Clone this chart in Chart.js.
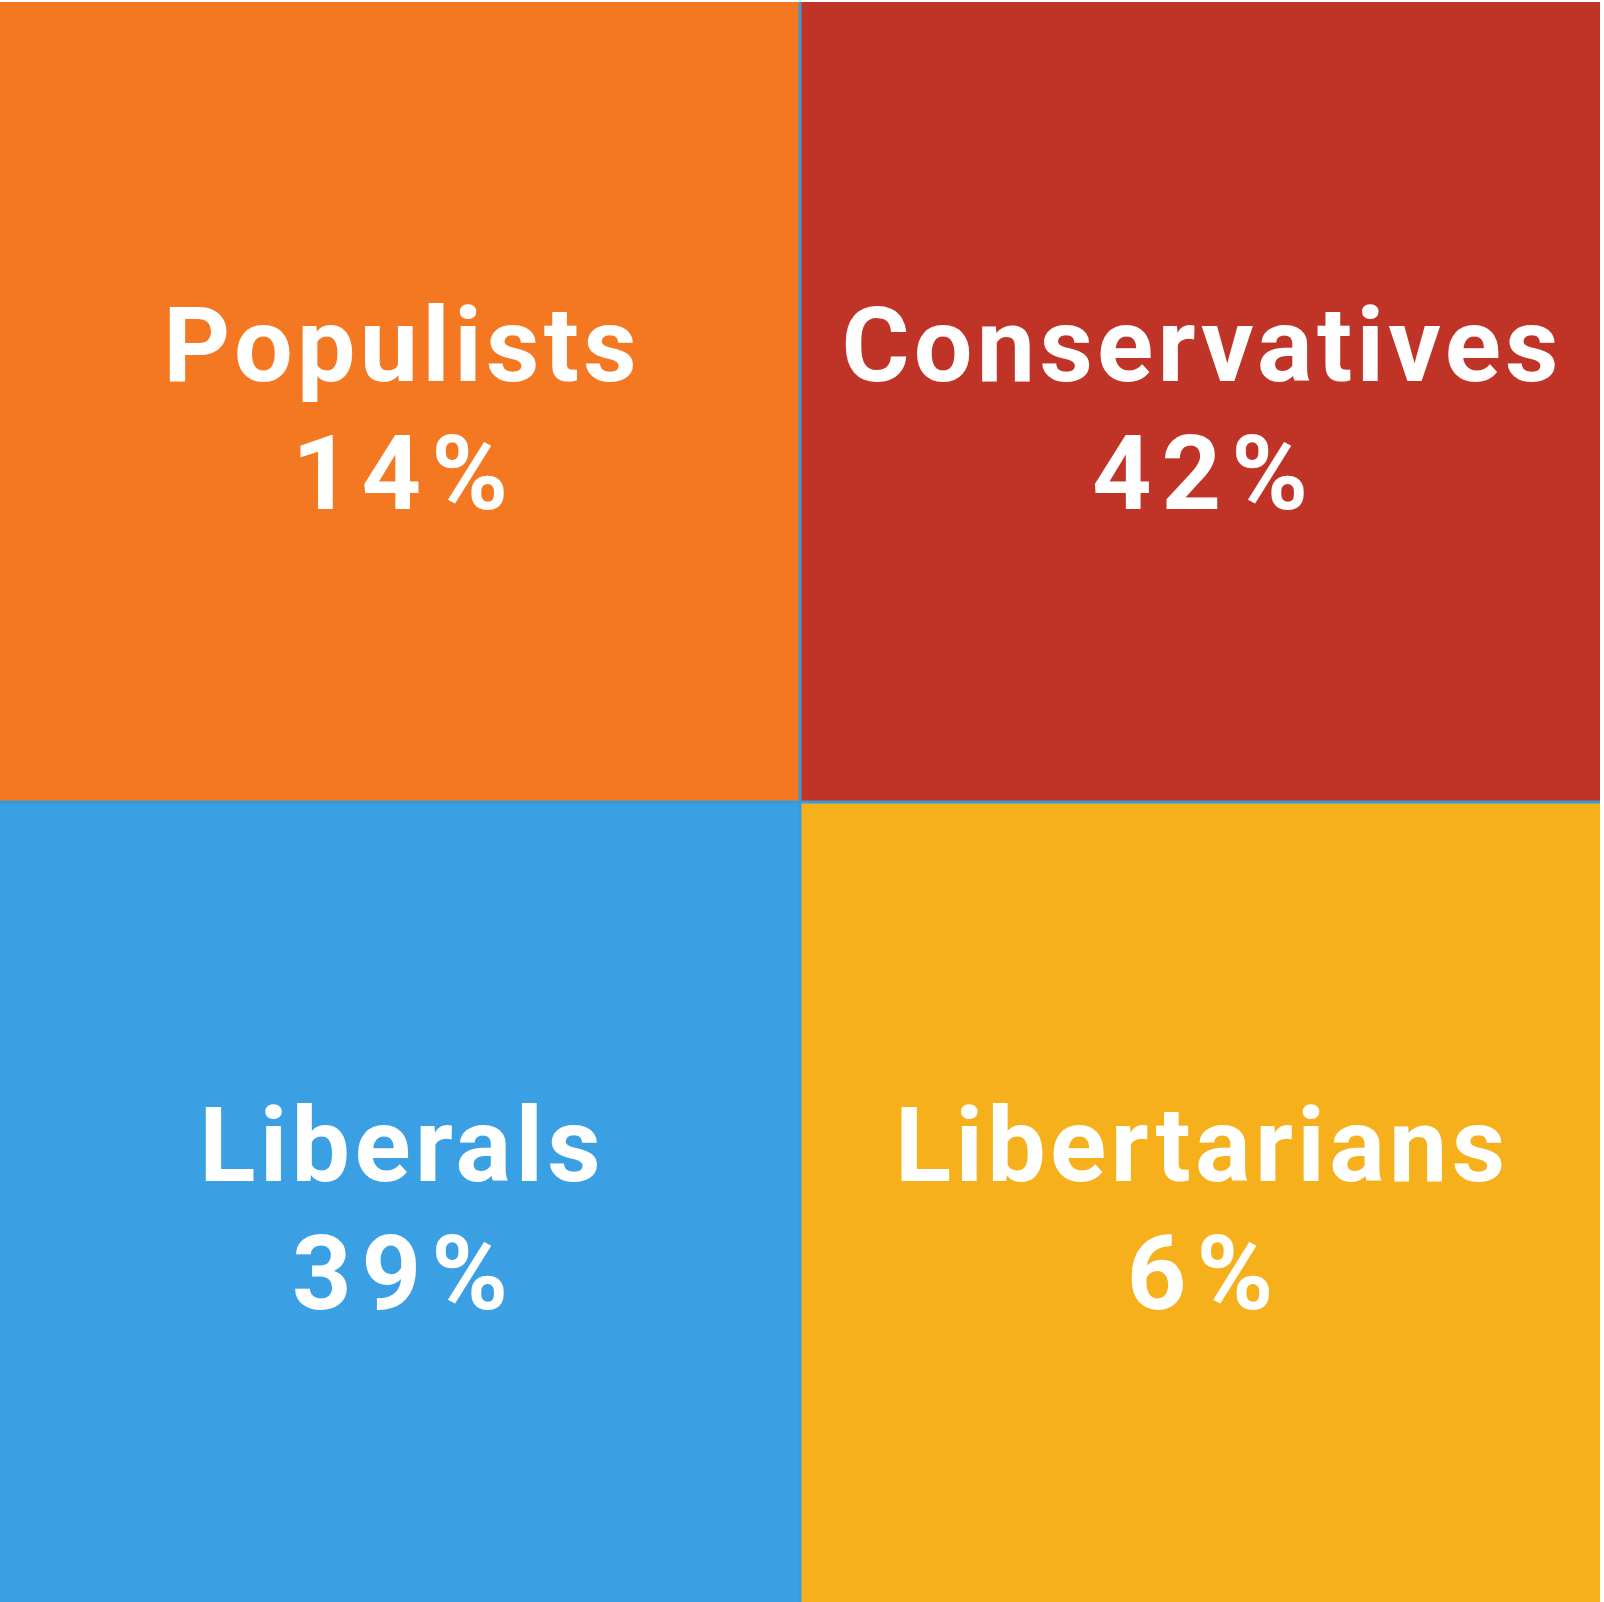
<!DOCTYPE html>
<html>
<head>
<meta charset="utf-8">
<script src="https://cdn.jsdelivr.net/npm/chart.js@4"></script>
<style>
  html, body { margin: 0; padding: 0; background: #ffffff; }
  #wrap { width: 1604px; height: 1602px; }
</style>
</head>
<body>
<div id="wrap"><canvas id="c" width="1604" height="1602"></canvas></div>
<script>
// Columns (x) and rows (stacked y)
const columns = ["Left", "Right"];
const topRowNames = ["Populists", "Conservatives"];
const topRowShares = [14, 42];
const bottomRowNames = ["Liberals", "Libertarians"];
const bottomRowShares = [39, 6];
const topRowColors = ["#F37821", "#C03428"];
const bottomRowColors = ["#3B9FE3", "#F5B01C"];
const cellSize = [1, 1];

function spacedText(ctx, text, x, y, spacing) {
  ctx.letterSpacing = spacing + "px";
  ctx.fillText(text, x + spacing / 2, y);
  ctx.letterSpacing = "0px";
}

const labelPlugin = {
  id: "quadLabels",
  afterDatasetsDraw(chart) {
    const ctx = chart.ctx;
    const xs = chart.scales.x, ys = chart.scales.y;
    // dividers
    ctx.save();
    ctx.strokeStyle = "#3A9AD9";
    ctx.lineWidth = 3;
    const xm = xs.getPixelForValue(0.5);
    const ym = ys.getPixelForValue(1);
    ctx.beginPath();
    ctx.moveTo(xm, chart.chartArea.top);
    ctx.lineTo(xm, chart.chartArea.bottom);
    ctx.moveTo(chart.chartArea.left, ym);
    ctx.lineTo(chart.chartArea.right, ym);
    ctx.stroke();
    ctx.restore();

    chart.data.datasets.forEach((ds, di) => {
      const meta = chart.getDatasetMeta(di);
      meta.data.forEach((bar, i) => {
        const cx = bar.x;
        const cy = (bar.y + bar.base) / 2;
        ctx.save();
        ctx.fillStyle = "#ffffff";
        ctx.textAlign = "center";
        ctx.textBaseline = "alphabetic";
        ctx.font = "bold 104px Roboto";
        spacedText(ctx, ds.names[i], cx, cy - 21, 4.3);
        spacedText(ctx, ds.shares[i] + "%", cx, cy + 107, 10);
        ctx.restore();
      });
    });
  }
};

new Chart(document.getElementById("c"), {
  type: "bar",
  data: {
    labels: columns,
    datasets: [
      { label: "Bottom", data: cellSize, names: bottomRowNames, shares: bottomRowShares,
        backgroundColor: bottomRowColors, borderWidth: 0, barPercentage: 1, categoryPercentage: 1 },
      { label: "Top", data: cellSize, names: topRowNames, shares: topRowShares,
        backgroundColor: topRowColors, borderWidth: 0, barPercentage: 1, categoryPercentage: 1 }
    ]
  },
  options: {
    responsive: false,
    animation: false,
    layout: { padding: { top: 2, right: 4, left: 0, bottom: 0 } },
    plugins: { legend: { display: false }, tooltip: { enabled: false } },
    scales: {
      x: { display: false, stacked: true },
      y: { display: false, stacked: true, min: 0, max: 2 }
    }
  },
  plugins: [labelPlugin]
});
</script>
</body>
</html>
